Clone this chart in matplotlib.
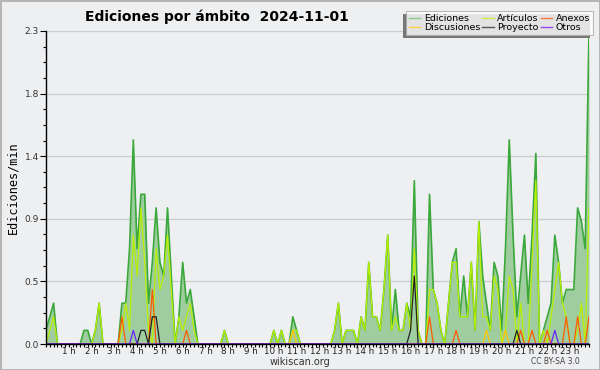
import numpy as np
import matplotlib
matplotlib.use("Agg")
import matplotlib.pyplot as plt
from matplotlib.patches import Rectangle

# valores cada 10 minutos (144 puntos), ediciones/min
ediciones = [
    0.1, 0.2, 0.3, 0, 0, 0,   0, 0, 0, 0, 0.1, 0.1,
    0, 0.1, 0.3, 0, 0, 0,   0, 0, 0.3, 0.3, 0.7, 1.5,
    0.7, 1.1, 1.1, 0.3, 0.6, 1.0,   0.6, 0.5, 1.0, 0.5, 0, 0.2,
    0.6, 0.3, 0.4, 0.2, 0, 0,   0, 0, 0, 0, 0, 0.1,
    0, 0, 0, 0, 0, 0,   0, 0, 0, 0, 0, 0,
    0.1, 0, 0.1, 0, 0, 0.2,   0.1, 0, 0, 0, 0, 0,
    0, 0, 0, 0, 0.1, 0.3,   0, 0.1, 0.1, 0.1, 0, 0.2,
    0.1, 0.6, 0.2, 0.2, 0.1, 0.4,   0.8, 0.1, 0.4, 0.1, 0.1, 0.3,
    0.2, 1.2, 0.1, 0, 0, 1.1,   0.4, 0.3, 0.1, 0, 0.3, 0.6,
    0.7, 0.2, 0.5, 0.2, 0.6, 0.1,   0.9, 0.5, 0.3, 0.1, 0.6, 0.5,
    0.1, 0.7, 1.5, 0.8, 0.2, 0.5,   0.8, 0.3, 0.8, 1.4, 0, 0.1,
    0.2, 0.3, 0.8, 0.6, 0.3, 0.4,   0.4, 0.4, 1.0, 0.9, 0.7, 2.3,
]
articulos = [
    0, 0.1, 0.2, 0, 0, 0,   0, 0, 0, 0, 0, 0,
    0, 0.1, 0.3, 0, 0, 0,   0, 0, 0.1, 0.3, 0.1, 0.8,
    0.5, 1.0, 0.6, 0.1, 0, 0.7,   0.4, 0.5, 0.8, 0.4, 0, 0.2,
    0.1, 0.2, 0.3, 0.1, 0, 0,   0, 0, 0, 0, 0, 0.1,
    0, 0, 0, 0, 0, 0,   0, 0, 0, 0, 0, 0,
    0.1, 0, 0.1, 0, 0, 0.1,   0.1, 0, 0, 0, 0, 0,
    0, 0, 0, 0, 0.1, 0.3,   0, 0.1, 0.1, 0.1, 0, 0.2,
    0.1, 0.6, 0.2, 0.2, 0.1, 0.4,   0.8, 0.1, 0.2, 0.1, 0.1, 0.3,
    0.1, 0.7, 0.1, 0, 0, 0.4,   0.4, 0.3, 0.1, 0, 0.3, 0.6,
    0.6, 0.2, 0.2, 0.2, 0.6, 0.1,   0.9, 0.2, 0.2, 0.1, 0.5, 0.4,
    0, 0.1, 0.5, 0.4, 0, 0.3,   0, 0, 0.6, 1.2, 0, 0.1,
    0, 0.2, 0.4, 0.6, 0.3, 0.2,   0, 0, 0.1, 0.3, 0, 1.0,
]
anexos = [0.0] * 144
for i, v in [(20, 0.2), (28, 0.4), (37, 0.1), (101, 0.2), (108, 0.1), (125, 0.1),
             (128, 0.1), (132, 0.1), (137, 0.2), (140, 0.2), (143, 0.2)]:
    anexos[i] = v
discusiones = [0.0] * 144
for i, v in [(65, 0.1), (116, 0.1), (121, 0.1)]:
    discusiones[i] = v
proyecto = [0.0] * 144
for i, v in [(25, 0.1), (26, 0.1), (28, 0.2), (29, 0.2), (96, 0.1), (97, 0.5), (124, 0.1)]:
    proyecto[i] = v
otros = [0.0] * 144
for i, v in [(23, 0.1), (134, 0.1)]:
    otros[i] = v

horas = [f"{h} h" for h in range(1, 24)]

bg = '#eeeff1'
x = np.arange(len(ediciones))

fig = plt.figure(figsize=(6, 3.7), dpi=100, facecolor=bg)
ax = fig.add_axes([46 / 600, 26 / 370, 543 / 600, 313 / 370], facecolor=bg)

ax.fill_between(x, ediciones, 0, color='#a0cda0', lw=0)
ax.plot(x, ediciones, color='#3aa83a', lw=1.2)
ax.plot(x, articulos, color='#b8f000', lw=0.9)
ax.plot(x, discusiones, color='#ffc800', lw=0.9)
ax.plot(x, anexos, color='#ff5a00', lw=0.9)
ax.plot(x, proyecto, color='#222222', lw=0.9)
ax.plot(x, otros, color='#6a1fff', lw=0.9)

ax.set_xlim(0, 143)
ax.set_ylim(0, 2.3)

yt = np.linspace(0, 2.3, 6)
ax.set_yticks(yt)
ax.set_yticklabels([f"{v:.1f}" for v in yt], fontsize=6.5, color='#333333')
ax.set_yticks(np.linspace(0, 2.3, 21), minor=True)
ax.yaxis.grid(True, color='#cccccc', lw=0.9)
ax.set_axisbelow(True)

ax.set_xticks(np.arange(6, 144, 6))
ax.set_xticklabels(horas, fontsize=6.3, color='#222222')
ax.set_xticks(np.arange(0, 144), minor=True)
ax.tick_params(axis='x', which='both', length=2.5, width=0.8, pad=0)
ax.tick_params(axis='y', which='major', length=4, width=0.8, pad=1)
ax.tick_params(axis='y', which='minor', length=2, width=0.8)

for s in ['top', 'right']:
    ax.spines[s].set_visible(False)
ax.spines['left'].set_linewidth(1.0)
ax.spines['bottom'].set_linewidth(1.0)

ax.set_ylabel('Ediciones/min', family='DejaVu Sans Mono', fontsize=8.5, labelpad=4)

fig.text(85 / 600, 1 - 17 / 370, 'Ediciones por ámbito  2024-11-01',
         fontsize=10, fontweight='bold', ha='left', va='center')
fig.text(300 / 600, 1 - 362 / 370, 'wikiscan.org', fontsize=7,
         color='#333333', ha='center', va='center')
fig.text(555 / 600, 1 - 362 / 370, 'CC BY-SA 3.0', fontsize=5.5,
         color='#444444', ha='center', va='center')

# leyenda
handles = [
    plt.Line2D([], [], color='#88cc88', lw=1),
    plt.Line2D([], [], color='#ffcc44', lw=1),
    plt.Line2D([], [], color='#ccee44', lw=1),
    plt.Line2D([], [], color='#555555', lw=1),
    plt.Line2D([], [], color='#ff7744', lw=1),
    plt.Line2D([], [], color='#9944ee', lw=1),
]
labels = ['Ediciones', 'Discusiones', 'Artículos', 'Proyecto', 'Anexos', 'Otros']
leg = fig.legend(handles, labels, ncol=3, loc='upper right',
                 bbox_to_anchor=(593 / 600, 1 - 11 / 370), fontsize=6.8,
                 frameon=True, fancybox=False, handlelength=1.2,
                 handletextpad=0.4, columnspacing=0.2, labelspacing=0.0,
                 borderpad=0.3, borderaxespad=0)
leg.get_frame().set_edgecolor('#aaaaaa')
leg.get_frame().set_linewidth(0.8)
leg.get_frame().set_facecolor('white')
leg.set_zorder(5)

fig.canvas.draw()
bb = leg.get_window_extent().transformed(fig.transFigure.inverted())
fig.patches.append(Rectangle((bb.x0 - 3 / 600, bb.y0 - 3 / 370), bb.width, bb.height,
                             transform=fig.transFigure, facecolor='#777777',
                             edgecolor='none', zorder=4))

# marco
fig.patches.append(Rectangle((0.5 / 600, 0.5 / 370), 599 / 600, 369 / 370,
                             transform=fig.transFigure, fill=False,
                             edgecolor='#aaaaaa', lw=1.2, zorder=10))

fig.savefig('out.png', dpi=100, facecolor=bg)
